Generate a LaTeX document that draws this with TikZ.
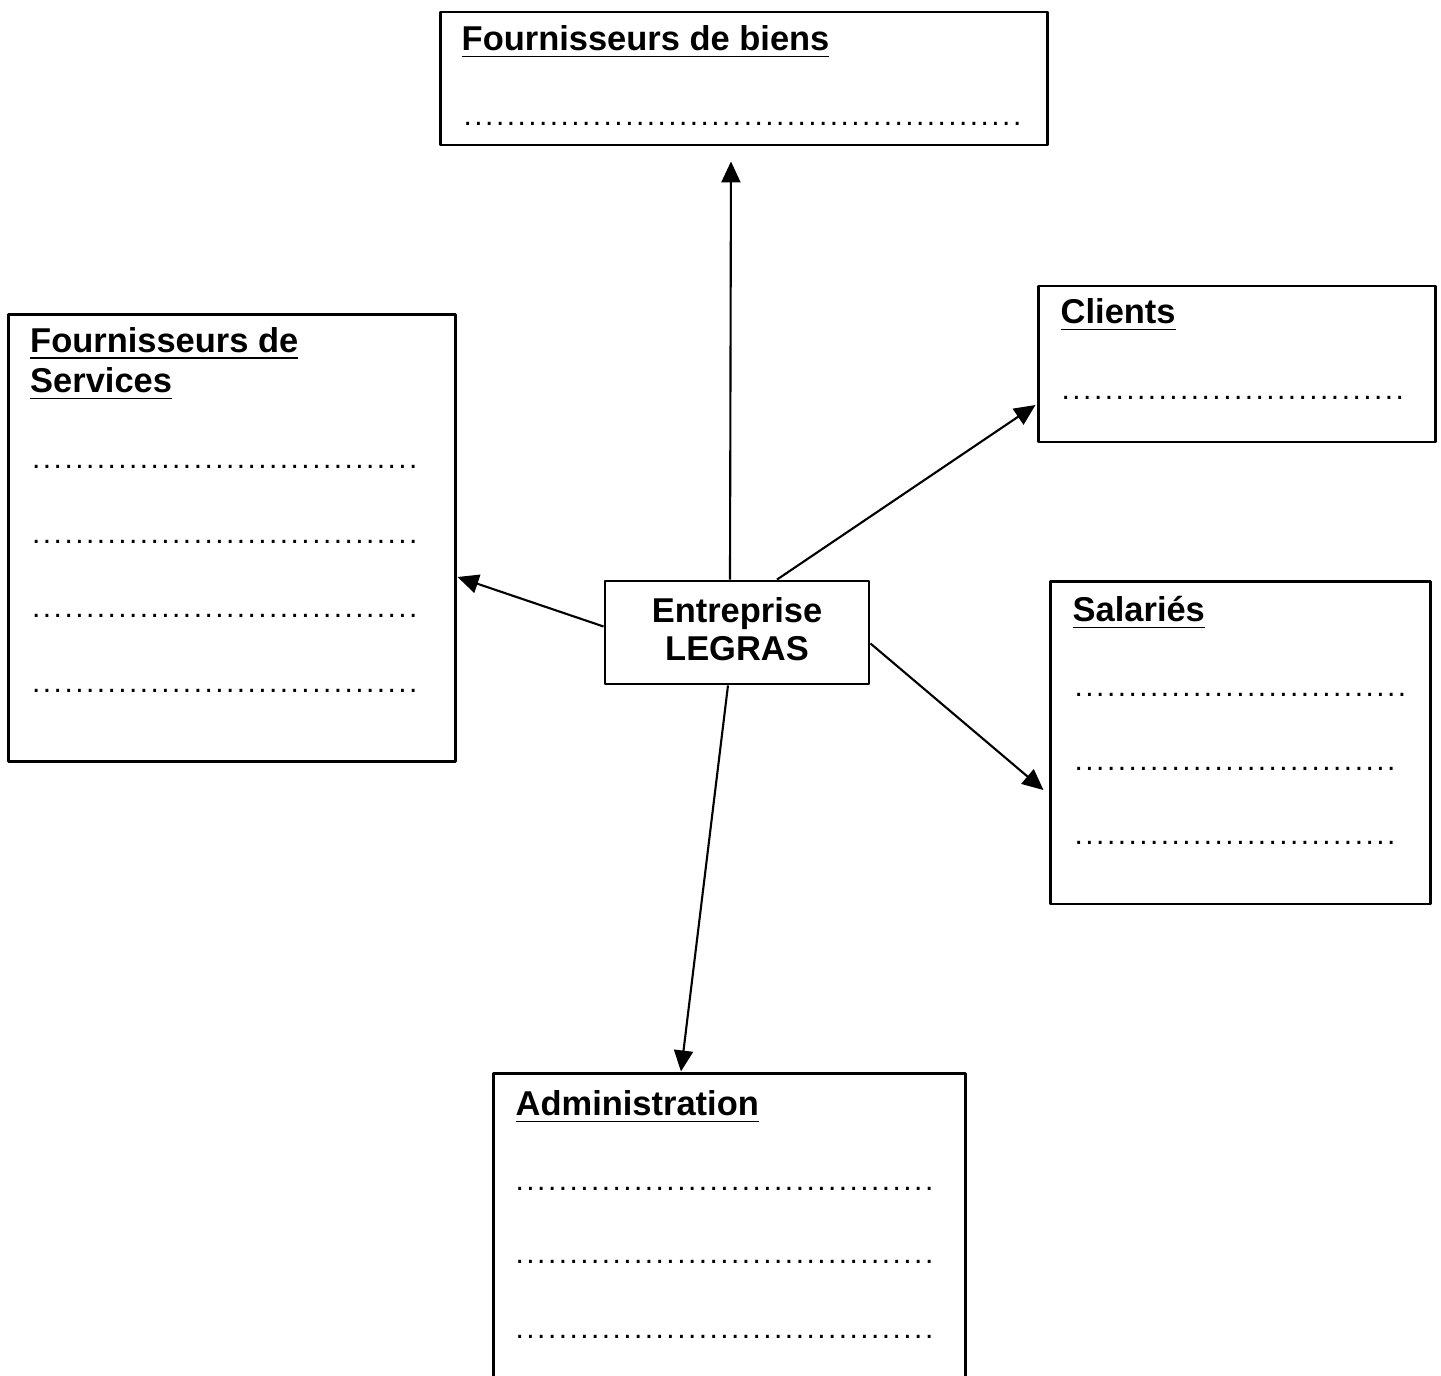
\documentclass[tikz,border=0pt]{standalone}
\usepackage{fontspec}
\setmainfont{Liberation Sans}
\usetikzlibrary{arrows.meta}
\newcommand\pointilles[1]{\foreach\k in {1,...,#1}{.\kern0.7pt}}
\tikzset{
	boite/.style={draw,line width=0.8pt,inner sep=0pt},
	titre/.style={font=\bfseries\fontsize{9.8}{11.4}\selectfont,inner sep=0pt,anchor=base west,align=left},
	points/.style={font=\fontsize{8.5}{10}\selectfont,inner sep=0pt,anchor=base west},
	fleche/.style={-{Triangle[length=0.21cm,width=0.19cm]},line width=0.6pt}
}
\begin{document}
\begin{tikzpicture}[x=0.01cm,y=-0.01cm,line join=round]
	\useasboundingbox (0,0) rectangle (1441,1376);
	\clip (0,0) rectangle (1441,1376);
	% cadres
	\node[boite,minimum width=6.06cm,minimum height=1.33cm] (biens) at (744,78.5) {};
	\node[boite,minimum width=3.96cm,minimum height=1.56cm] (clients) at (1237,364) {};
	\node[boite,minimum width=4.46cm,minimum height=4.46cm] (services) at (232,538) {};
	\node[boite,minimum width=3.79cm,minimum height=3.22cm] (salaries) at (1240.5,743) {};
	\node[boite,minimum width=4.71cm,minimum height=3.36cm] (admin) at (729.5,1242) {};
	\node[boite,minimum width=2.64cm,minimum height=1.03cm,align=center,
		font=\bfseries\fontsize{9.8}{10.9}\selectfont] (ent) at (737,632.5) {Entreprise\\LEGRAS\vphantom{p}};
	% titres
	\node[titre] (biens-t) at (461,51) {\underline{Fournisseurs de biens}};
	\node[titre] (clients-t) at (1060,324) {\underline{Clients}};
	\node[titre] (services-t) at (29.5,393) {\underline{Fournisseurs de}\\\underline{Services}};
	\node[titre] (salaries-t) at (1072,622) {\underline{Salariés}};
	\node[titre] (admin-t) at (515,1116) {\underline{Administration}};
	% pointilles
	\node[points] (biens-p) at (463,126) {\pointilles{52}};
	\node[points] (clients-p) at (1061,400) {\pointilles{32}};
	\node[points] (services-p1) at (31.5,469) {\pointilles{36}};
	\node[points] (services-p2) at (31.5,544) {\pointilles{36}};
	\node[points] (services-p3) at (31.5,618) {\pointilles{36}};
	\node[points] (services-p4) at (31.5,693) {\pointilles{36}};
	\node[points] (salaries-p1) at (1074,697) {\pointilles{31}};
	\node[points] (salaries-p2) at (1074,771) {\pointilles{30}};
	\node[points] (salaries-p3) at (1074,845) {\pointilles{30}};
	\node[points] (admin-p1) at (515,1190) {\pointilles{39}};
	\node[points] (admin-p2) at (515,1264) {\pointilles{39}};
	\node[points] (admin-p3) at (515,1339) {\pointilles{39}};
	% fleches
	\draw[fleche] ([xshift=-0.07cm]ent.north) -- ([xshift=-0.13cm,yshift=-0.15cm]biens.south);
	\draw[fleche] ([xshift=0.40cm]ent.north) -- ([xshift=-0.02cm,yshift=-0.41cm]clients.west);
	\draw[fleche] ([yshift=0.06cm]ent.west) -- ([xshift=0.01cm,yshift=-0.39cm]services.east);
	\draw[fleche] ([yshift=-0.11cm]ent.east) -- ([xshift=-0.06cm,yshift=-0.47cm]salaries.west);
	\draw[fleche] ([xshift=-0.09cm]ent.south) -- ([xshift=-0.485cm,yshift=0.01cm]admin.north);
\end{tikzpicture}
\end{document}
